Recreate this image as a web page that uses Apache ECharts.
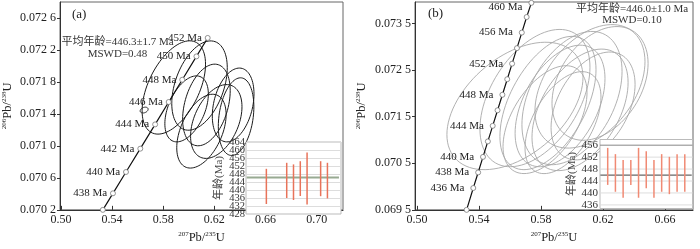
<!DOCTYPE html>
<html><head><meta charset="utf-8">
<script src="https://cdn.jsdelivr.net/npm/echarts@6/dist/echarts.min.js"></script>
<style>html,body{margin:0;padding:0;background:#fff}#c{width:700px;height:249px}</style>
</head><body><div id="c"></div>
<script>
const FONT = "'Liberation Serif','Noto Sans CJK SC',serif";

// ---------- Panel (a) ----------
const aXTicks = [0.50, 0.54, 0.58, 0.62, 0.66, 0.70];
const aYTicks = [0.0702, 0.0706, 0.0710, 0.0714, 0.0718, 0.0722, 0.0726];
const aAges = [438, 440, 442, 444, 446, 448, 450, 452];
const aConX = [0.5407, 0.5509, 0.5621, 0.5737, 0.5843, 0.5949, 0.6060, 0.6148];
const aConY = [0.070407, 0.070674, 0.070966, 0.071270, 0.071550, 0.071829, 0.072121, 0.072352];
const aLineStart = [0.5328, 0.0702];
const aEllX = [0.5883, 0.6084, 0.6138, 0.6347, 0.6370, 0.6215, 0.6099, 0.5983, 0.5651];
const aEllY = [0.071732, 0.071756, 0.071513, 0.071513, 0.071367, 0.071306, 0.071185, 0.071464, 0.071449];
const aEllSX = [0.0248, 0.0217, 0.0186, 0.0163, 0.0139, 0.0201, 0.0193, 0.0170, 0.0031];
const aEllSY = [0.000584, 0.000559, 0.000511, 0.000462, 0.000486, 0.000462, 0.000462, 0.000413, 0.0000365];
const aEllR = [0.5, 0.4, 0.35, 0.3, 0.25, 0.4, 0.45, 0.45, 0.3];
// inset (a)
const aInTicks = [428, 432, 436, 440, 444, 448, 452, 456, 460, 464];
const aInPos = [3, 6, 7, 8, 9, 11, 12];
const aInLo = [433.0, 436.0, 435.0, 437.0, 432.7, 436.9, 435.8];
const aInHi = [450.6, 453.6, 452.8, 454.4, 458.7, 454.4, 453.6];
const aMean = 446.3;

// ---------- Panel (b) ----------
const bXTicks = [0.50, 0.54, 0.58, 0.62, 0.66];
const bYTicks = [0.0695, 0.0705, 0.0715, 0.0725, 0.0735];
const bAges = [436, 438, 440, 442, 444, 446, 448, 450, 452, 454, 456, 458, 460];
const bLabelAges = [436, 438, 440, 444, 448, 452, 456, 460];
const bConX = [0.53632, 0.53945, 0.54258, 0.54571, 0.54884, 0.55197, 0.55510, 0.55823, 0.56136, 0.56449, 0.56762, 0.57075, 0.57380];
const bConY = [0.069969, 0.070303, 0.070637, 0.070970, 0.071304, 0.071638, 0.071971, 0.072305, 0.072639, 0.072972, 0.073306, 0.073640, 0.073945];
const bLineStart = [0.5320, 0.0695];
const bLineEnd = [0.5745, 0.07405];
const bEllX = [0.5632, 0.5761, 0.5845, 0.5923, 0.6000, 0.6052, 0.6116, 0.6181, 0.5826, 0.5942, 0.6136];
const bEllY = [0.071731, 0.071900, 0.071794, 0.071731, 0.071900, 0.071647, 0.072152, 0.072215, 0.071437, 0.071373, 0.071731];
const bEllSX = [0.0439, 0.0355, 0.0310, 0.0290, 0.0323, 0.0310, 0.0355, 0.0310, 0.0271, 0.0245, 0.0271];
const bEllSY = [0.001368, 0.001474, 0.001431, 0.001305, 0.001431, 0.001305, 0.001326, 0.001221, 0.001158, 0.001095, 0.001158];
const bEllR = [0.45, 0.45, 0.5, 0.45, 0.4, 0.45, 0.4, 0.35, 0.5, 0.5, 0.4];
// inset (b)
const bInTicks = [436, 440, 444, 448, 452, 456];
const bInPos = [1, 2, 3, 4, 5, 6, 7, 8, 9, 10, 11];
const bInLo = [442.7, 440.4, 438.4, 442.7, 438.4, 441.6, 438.4, 440.4, 439.6, 440.4, 440.4];
const bInHi = [455.1, 453.0, 451.0, 451.0, 455.1, 454.0, 451.0, 453.0, 452.1, 453.0, 453.0];
const bMean = 446.0;

// ---------- helpers ----------
const yFmt = v => { const s = (+v).toFixed(4); return s.slice(0, -1) + ' ' + s.slice(-1); };
const xFmt = v => (+v).toFixed(2);
const richName = {
  s: { fontSize: 7, verticalAlign: 'top', fontFamily: FONT, color: '#222', lineHeight: 14 },
  n: { fontSize: 12.5, fontFamily: FONT, color: '#222', lineHeight: 14 }
};

function mainX(grid, min, max, ticks) {
  return {
    type: 'value', gridIndex: grid, min: min, max: max,
    axisLine: { show: true, onZero: false, lineStyle: { color: '#333', width: 1 } },
    axisTick: { show: true, inside: true, length: 4, customValues: ticks, lineStyle: { color: '#333' } },
    axisLabel: { customValues: ticks, formatter: xFmt, fontFamily: FONT, fontSize: 12, color: '#222', margin: 4 },
    splitLine: { show: false },
    name: '{s|207}{n|Pb/}{s|235}{n|U}', nameLocation: 'middle', nameGap: 20,
    nameTextStyle: { rich: richName }
  };
}
function mainY(grid, min, max, ticks, gap) {
  return {
    type: 'value', gridIndex: grid, min: min, max: max,
    axisLine: { show: true, onZero: false, lineStyle: { color: '#333', width: 1 } },
    axisTick: { show: true, inside: false, length: 3, customValues: ticks, lineStyle: { color: '#333' } },
    axisLabel: { customValues: ticks, formatter: yFmt, fontFamily: FONT, fontSize: 12, color: '#222', margin: 4 },
    splitLine: { show: false },
    name: '{s|206}{n|Pb/}{s|238}{n|U}', nameLocation: 'middle', nameGap: gap,
    nameTextStyle: { rich: richName }
  };
}
function ellipseSeries(ax, X, Y, SX, SY, R, color, width) {
  return {
    type: 'custom', xAxisIndex: ax, yAxisIndex: ax, z: 2, clip: true, silent: true,
    encode: { x: 0, y: 1 },
    data: X.map((x, i) => [x, Y[i], SX[i], SY[i], R[i]]),
    renderItem: (params, api) => {
      const x0 = api.value(0), y0 = api.value(1), sx = api.value(2), sy = api.value(3), r = api.value(4);
      const pts = [];
      for (let k = 0; k <= 90; k++) {
        const t = k / 90 * 2 * Math.PI, c = Math.cos(t), s = Math.sin(t);
        pts.push(api.coord([x0 + sx * c, y0 + sy * (r * c + Math.sqrt(1 - r * r) * s)]));
      }
      return { type: 'polyline', shape: { points: pts }, style: { fill: null, stroke: color, lineWidth: width } };
    }
  };
}
function barSeries(ax, pos, lo, hi, color) {
  return {
    type: 'custom', xAxisIndex: ax, yAxisIndex: ax, z: 8, silent: true,
    encode: { x: 0, y: [1, 2] },
    data: pos.map((p, i) => [p, lo[i], hi[i]]),
    renderItem: (params, api) => {
      const a = api.coord([api.value(0), api.value(1)]);
      const b = api.coord([api.value(0), api.value(2)]);
      return { type: 'line', shape: { x1: a[0], y1: a[1], x2: b[0], y2: b[1] }, style: { stroke: color, lineWidth: 1.5 } };
    }
  };
}
function hLineSeries(ax, vals, xmin, xmax, colorFn, widthFn, z) {
  return {
    type: 'custom', xAxisIndex: ax, yAxisIndex: ax, z: z, silent: true,
    encode: { y: 0 },
    data: vals.map(v => [v]),
    renderItem: (params, api) => {
      const v = api.value(0);
      const a = api.coord([xmin, v]), b = api.coord([xmax, v]);
      return { type: 'line', shape: { x1: a[0], y1: a[1], x2: b[0], y2: b[1] },
        style: { stroke: colorFn(v), lineWidth: widthFn(v) } };
    }
  };
}
function tickTextSeries(ax, vals, xval, fontSize, z) {
  return {
    type: 'custom', xAxisIndex: ax, yAxisIndex: ax, z: z, silent: true, clip: false,
    encode: { y: 0 },
    data: vals.map(v => [v]),
    renderItem: (params, api) => {
      const c = api.coord([xval, api.value(0)]);
      return { type: 'text', x: c[0] - 1, y: c[1] + 0.5,
        style: { text: String(api.value(0)), font: fontSize + 'px ' + FONT, fill: '#333', align: 'right', verticalAlign: 'middle' } };
    }
  };
}

const bConData = [bLineStart].concat(bConX.map((x, i) => {
  const item = { value: [x, bConY[i]] };
  if (bAges[i] === 460) item.label = { offset: [0, 4] };
  return item;
})).concat([bLineEnd]);

const chart = echarts.init(document.getElementById('c'), null, { renderer: 'canvas' });
const option = {
  backgroundColor: '#fff',
  animation: false,
  textStyle: { fontFamily: FONT },
  grid: [
    { left: 57, top: 2, width: 286, height: 214, show: true, borderColor: '#666', borderWidth: 1, backgroundColor: 'transparent' },
    { left: 415, top: 2, width: 278, height: 212, show: true, borderColor: '#666', borderWidth: 1, backgroundColor: 'transparent' },
    { left: 246, top: 142, width: 95, height: 72, show: true, borderColor: '#bbb', borderWidth: 1, backgroundColor: '#fff', z: 5 },
    { left: 600, top: 139.5, width: 92.5, height: 69, show: true, borderColor: '#bbb', borderWidth: 1, backgroundColor: '#fff', z: 5 }
  ],
  xAxis: [
    mainX(0, 0.4993, 0.7206, aXTicks),
    mainX(1, 0.49871, 0.67808, bXTicks),
    { type: 'value', gridIndex: 2, min: 0, max: 14, show: false, z: 6 },
    { type: 'value', gridIndex: 3, min: 0, max: 12, show: false, z: 6 }
  ],
  yAxis: [
    mainY(0, 0.0702, 0.072802, aYTicks, 45),
    mainY(1, 0.0695, 0.073963, bYTicks, 46),
    {
      type: 'value', gridIndex: 2, min: 428, max: 464, interval: 4, z: 6,
      axisLine: { show: false }, axisTick: { show: false },
      axisLabel: { show: false },
      splitLine: { show: true, lineStyle: { color: '#ddd', width: 1 } },
      name: '年龄(Ma)', nameLocation: 'middle', nameGap: 21,
      nameTextStyle: { fontFamily: FONT, fontSize: 11, color: '#444' }
    },
    {
      type: 'value', gridIndex: 3, min: 434.8, max: 457.9, z: 6,
      axisLine: { show: false }, axisTick: { show: false, customValues: bInTicks },
      axisLabel: { customValues: bInTicks, showMinLabel: true, showMaxLabel: true, fontFamily: FONT, fontSize: 11, color: '#333', margin: 2 },
      splitLine: { show: false },
      name: '年龄(Ma)', nameLocation: 'middle', nameGap: 19,
      nameTextStyle: { fontFamily: FONT, fontSize: 11, color: '#444' }
    }
  ],
  graphic: [
    { type: 'text', left: 72, top: 8, z: 10, style: { text: '(a)', font: '13px ' + FONT, fill: '#222' } },
    { type: 'text', x: 117.5, y: 36, z: 10, style: { text: '平均年龄=446.3±1.7 Ma\nMSWD=0.48', font: '11px ' + FONT, fill: '#333', align: 'center', lineHeight: 12 } },
    { type: 'text', left: 428, top: 7, z: 10, style: { text: '(b)', font: '13px ' + FONT, fill: '#222' } },
    { type: 'text', x: 632, y: 4, z: 10, style: { text: '平均年龄=446.0±1.0 Ma\nMSWD=0.10', font: '11px ' + FONT, fill: '#333', align: 'center', lineHeight: 11 } }
  ],
  series: [
    ellipseSeries(0, aEllX, aEllY, aEllSX, aEllSY, aEllR, '#1a1a1a', 1),
    ellipseSeries(1, bEllX, bEllY, bEllSX, bEllSY, bEllR, '#a8a8a8', 0.9),
    {
      type: 'line', xAxisIndex: 0, yAxisIndex: 0, z: 3, silent: true,
      data: [aLineStart].concat(aConX.map((x, i) => [x, aConY[i]])),
      lineStyle: { color: '#111', width: 1.2 },
      symbol: 'circle', symbolSize: 5, showAllSymbol: true,
      itemStyle: { color: '#fff', borderColor: '#777', borderWidth: 0.8 },
      label: {
        show: true, position: 'left', distance: 3, fontFamily: FONT, fontSize: 11, color: '#222',
        formatter: p => p.dataIndex === 0 ? '' : aAges[p.dataIndex - 1] + ' Ma'
      }
    },
    {
      type: 'line', xAxisIndex: 1, yAxisIndex: 1, z: 3, silent: true,
      data: bConData,
      lineStyle: { color: '#111', width: 1.2 },
      symbol: 'circle', symbolSize: 5, showAllSymbol: true,
      itemStyle: { color: '#fff', borderColor: '#777', borderWidth: 0.8 },
      label: {
        show: true, position: 'left', distance: 6, fontFamily: FONT, fontSize: 11, color: '#222',
        formatter: p => {
          const i = p.dataIndex - 1;
          if (i < 0 || i >= bAges.length) return '';
          return bLabelAges.indexOf(bAges[i]) >= 0 ? bAges[i] + ' Ma' : '';
        }
      }
    },
    tickTextSeries(2, aInTicks, 0, 10.5, 9),
    hLineSeries(2, [aMean], 0.1, 13.7, () => '#98aa92', () => 2, 7),
    barSeries(2, aInPos, aInLo, aInHi, '#e8735a'),
    hLineSeries(3, bInTicks, 0, 12, v => v === 456 ? '#888' : '#ddd', () => 1, 6.5),
    hLineSeries(3, [bMean], 0.05, 11.9, () => '#666', () => 1.2, 7),
    barSeries(3, bInPos, bInLo, bInHi, '#f08a74')
  ]
};
chart.setOption(option);
</script></body></html>
